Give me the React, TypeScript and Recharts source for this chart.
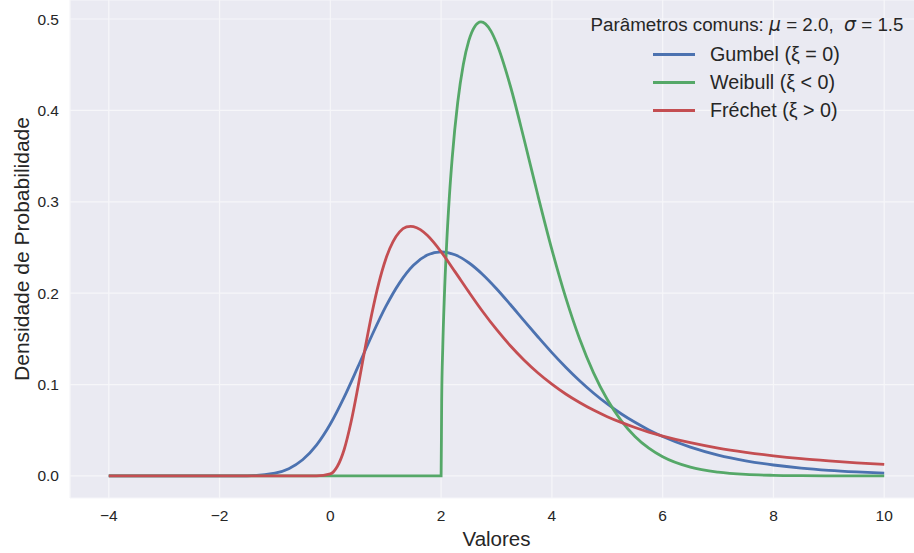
import { LineChart, Line, XAxis, YAxis, CartesianGrid, Legend } from "recharts";

// Valores (densidades estimadas em cada x)
const gumbelX = [-4, -3, -2, -1.5, -1, -0.75, -0.5, -0.25, 0, 0.25, 0.5, 0.75, 1, 1.25, 1.5, 1.75, 2, 2.25, 2.5, 2.75, 3, 3.25, 3.5, 3.75, 4, 4.25, 4.5, 4.75, 5, 5.25, 5.5, 5.75, 6, 6.5, 7, 7.5, 8, 8.5, 9, 9.5, 10];
const gumbelY = [0, 0, 0, 0.0002, 0.0031, 0.008, 0.0177, 0.0338, 0.0569, 0.0863, 0.1196, 0.1537, 0.1852, 0.2113, 0.2305, 0.2417, 0.2453, 0.242, 0.2333, 0.2205, 0.2049, 0.1876, 0.1697, 0.1521, 0.135, 0.119, 0.1042, 0.0908, 0.0788, 0.0681, 0.0587, 0.0504, 0.0432, 0.0316, 0.0229, 0.0166, 0.012, 0.0086, 0.0062, 0.0045, 0.0032];

const weibullX = [-4, 2, 2.01, 2.03, 2.06, 2.1, 2.15, 2.2, 2.3, 2.4, 2.5, 2.6, 2.72, 2.8, 2.9, 3, 3.25, 3.5, 3.75, 4, 4.25, 4.5, 4.75, 5, 5.25, 5.5, 5.75, 6, 6.5, 7, 7.5, 8, 8.5, 9, 10];
const weibullY = [0, 0, 0.0816, 0.141, 0.1984, 0.2538, 0.3064, 0.3478, 0.4089, 0.45, 0.4763, 0.4911, 0.4968, 0.4947, 0.4867, 0.4737, 0.4267, 0.3679, 0.3063, 0.2477, 0.1951, 0.1501, 0.1131, 0.0836, 0.0606, 0.0433, 0.0304, 0.021, 0.0096, 0.0042, 0.0017, 0.0007, 0.0003, 0.0001, 0];

const frechetX = [-4, -1, -0.5, -0.25, 0, 0.125, 0.25, 0.375, 0.5, 0.625, 0.75, 0.875, 1, 1.25, 1.375, 1.45, 1.5, 1.625, 1.75, 2, 2.25, 2.5, 2.75, 3, 3.25, 3.5, 3.75, 4, 4.25, 4.5, 4.75, 5, 5.25, 5.5, 5.75, 6, 6.5, 7, 7.5, 8, 8.5, 9, 9.5, 10];
const frechetY = [0, 0, 0, 0, 0.0022, 0.0103, 0.029, 0.0593, 0.0977, 0.1389, 0.1778, 0.2111, 0.2372, 0.2671, 0.2725, 0.2732, 0.2729, 0.2696, 0.2633, 0.2453, 0.2236, 0.2014, 0.18, 0.1603, 0.1425, 0.1267, 0.1127, 0.1005, 0.0897, 0.0804, 0.0721, 0.0649, 0.0586, 0.053, 0.048, 0.0437, 0.0364, 0.0305, 0.0259, 0.0221, 0.019, 0.0165, 0.0143, 0.0126];

const xTicks = [-4, -2, 0, 2, 4, 6, 8, 10];
const yTicks = [0, 0.1, 0.2, 0.3, 0.4, 0.5];

const seriesNames = ["Gumbel (ξ = 0)", "Weibull (ξ < 0)", "Fréchet (ξ > 0)"];
const colors = ["#4C72B0", "#55A868", "#C44E52"];

const FONT = '"Liberation Sans", Arial, sans-serif';
const INK = "#262626";

const toRows = (xs: number[], ys: number[]) => xs.map((x, i) => ({ x, y: ys[i] }));

const series = [
  { name: seriesNames[0], data: toRows(gumbelX, gumbelY), color: colors[0] },
  { name: seriesNames[1], data: toRows(weibullX, weibullY), color: colors[1] },
  { name: seriesNames[2], data: toRows(frechetX, frechetY), color: colors[2] },
];

const fmtX = (v: number) => (v < 0 ? `\u2212${Math.abs(v)}` : `${v}`);

function XLabel(props: any) {
  const { viewBox } = props;
  const cx = viewBox.x + viewBox.width / 2;
  return (
    <text x={cx} y={viewBox.y + 41} dy="0.355em" textAnchor="middle" fill={INK} fontSize={20.5} fontFamily={FONT}>
      Valores
    </text>
  );
}

function YLabel(props: any) {
  const { viewBox } = props;
  const cx = 22;
  const cy = viewBox.y + viewBox.height / 2;
  return (
    <text x={cx} y={cy} dy="0.355em" textAnchor="middle" transform={`rotate(-90 ${cx} ${cy})`} fill={INK} fontSize={21} fontFamily={FONT}>
      Densidade de Probabilidade
    </text>
  );
}

const mathStyle = { fontFamily: '"DejaVu Sans"', fontStyle: "italic" as const };

function LegendBox() {
  const rows = [54, 82, 110];
  return (
    <div style={{ position: "relative", width: 334, height: 125, fontFamily: FONT, color: INK }}>
      <div style={{ position: "absolute", left: 0, top: 15, width: 334, textAlign: "center", fontSize: 18.8, lineHeight: "20px", whiteSpace: "nowrap" }}>
        Parâmetros comuns: <span style={mathStyle}>μ</span> = 2.0,&nbsp;&nbsp;<span style={mathStyle}>σ</span> = 1.5
      </div>
      {series.map((s, i) => (
        <div key={s.name}>
          <div style={{ position: "absolute", left: 73, top: rows[i] - 1.5, width: 42, height: 3, background: s.color }} />
          <div style={{ position: "absolute", left: 130, top: rows[i] - 12, fontSize: 19.7, lineHeight: "24px", whiteSpace: "nowrap" }}>{s.name}</div>
        </div>
      ))}
    </div>
  );
}

export default function App() {
  return (
    <div style={{ position: "absolute", left: 0, top: 0, width: 914, height: 553, overflow: "hidden", background: "#fff" }}>
      <LineChart width={923} height={553} margin={{ top: 0, right: 0, bottom: 0, left: 0 }}>
        <CartesianGrid fill="#EAEAF2" stroke="#F6F6F9" strokeWidth={1.2} />
        <XAxis
          type="number"
          dataKey="x"
          domain={[-4.7, 10.7]}
          ticks={xTicks}
          allowDataOverflow
          height={55}
          axisLine={false}
          tickLine={false}
          tickSize={0}
          tickMargin={12}
          tickFormatter={fmtX}
          tick={{ fill: INK, fontSize: 15.5, fontFamily: FONT }}
          label={XLabel}
        />
        <YAxis
          type="number"
          domain={[-0.0241, 0.5208]}
          ticks={yTicks}
          allowDataOverflow
          width={70}
          axisLine={false}
          tickLine={false}
          tickSize={0}
          tickMargin={11}
          tickFormatter={(v: number) => v.toFixed(1)}
          tick={{ fill: INK, fontSize: 15.5, fontFamily: FONT }}
          label={YLabel}
        />
        {series.map((s) => (
          <Line
            key={s.name}
            data={s.data}
            dataKey="y"
            name={s.name}
            type="monotone"
            stroke={s.color}
            strokeWidth={2.8}
            dot={false}
            activeDot={false}
            isAnimationActive={false}
          />
        ))}
        <Legend
          layout="vertical"
          align="center"
          verticalAlign="middle"
          wrapperStyle={{ position: "absolute", left: 580, top: 0, width: 334, height: 125 }}
          content={() => <LegendBox />}
        />
      </LineChart>
    </div>
  );
}
